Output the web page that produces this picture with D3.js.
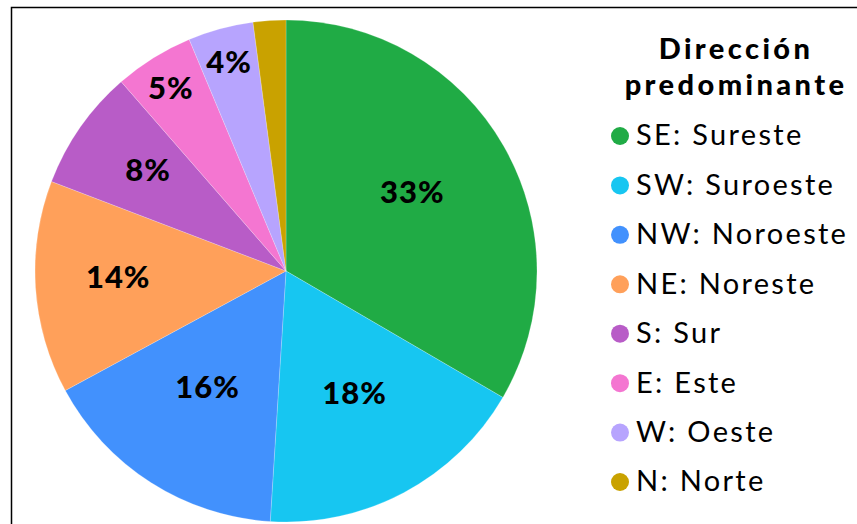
<!DOCTYPE html>
<html><head><meta charset="utf-8">
<script src="https://cdn.jsdelivr.net/npm/d3@7"></script>
<style>body{margin:0;background:#fff}svg{display:block}</style>
</head><body>
<svg id="c" width="857" height="524"></svg>
<script>
const categories = ["SE: Sureste","SW: Suroeste","NW: Noroeste","NE: Noreste","S: Sur","E: Este","W: Oeste","N: Norte"];
const values = [33.4, 17.6, 16.1, 13.7, 7.8, 5.1, 4.2, 2.1];
const colors = ["#20ab45","#17c6f1","#4291fd","#ffa05a","#b85cc7","#f476d1","#b7a4fe","#c9a200"];
const titleLines = ["Dirección","predominante"];

const svg = d3.select("#c");
svg.append("rect").attr("x",11.5).attr("y",7.5).attr("width",900).attr("height",600)
  .attr("fill","#fff").attr("stroke","#000").attr("stroke-width",1.5);

const cx = 286, cy = 271, R = 251;
const total = d3.sum(values);
const data = categories.map((c,i)=>({cat:c, v:values[i], col:colors[i]}));
const pie = d3.pie().value(d=>d.v).sort(null);
const arcs = pie(data);
const arc = d3.arc().innerRadius(0).outerRadius(R);
const g = svg.append("g").attr("transform",`translate(${cx},${cy})`);
g.selectAll("path").data(arcs).join("path")
  .attr("d",arc).attr("fill",d=>d.data.col)
  .attr("stroke","rgba(255,255,255,0.35)").attr("stroke-width",0.6);

const pct = d => Math.round(d.data.v/total*100);
const tier = p => p>=15 ? {f:0.58, o:-7} : (p>=7 ? {f:0.67, o:-5} : {f:0.87, o:2});
g.selectAll("text.lbl").data(arcs.filter(d=>pct(d)>=3)).join("text")
  .attr("class","lbl")
  .attr("transform",d=>{
    const t = tier(pct(d));
    const a = d3.arc().innerRadius(R*t.f).outerRadius(R*t.f);
    const [x,y] = a.centroid(d);
    return `translate(${x},${y+t.o})`;
  })
  .attr("text-anchor","middle").attr("dy","0.36em")
  .attr("font-family","Lato, sans-serif").attr("font-weight","900")
  .attr("font-size",31).attr("letter-spacing",1).attr("fill","#000")
  .text(d=>pct(d)+"%");

const lg = svg.append("g");
lg.selectAll("text.t").data(titleLines).join("text").attr("class","t")
  .attr("x",736).attr("y",(d,i)=>59+i*36)
  .attr("text-anchor","middle")
  .attr("font-family","Lato, sans-serif").attr("font-weight","900")
  .attr("font-size",29).attr("letter-spacing",3.4).attr("fill","#000").text(d=>d);

const rowY = d3.scalePoint().domain(categories).range([135,481]);
const items = lg.selectAll("g.it").data(data).join("g").attr("class","it")
  .attr("transform",d=>`translate(0,${rowY(d.cat)})`);
items.append("circle").attr("cx",620).attr("cy",1).attr("r",9).attr("fill",d=>d.col);
items.append("text").attr("x",636).attr("y",0).attr("dy","0.36em")
  .attr("font-family","Lato, sans-serif").attr("font-size",29).attr("letter-spacing",2.3).attr("fill","#000")
  .text(d=>d.cat);
</script>
</body></html>
